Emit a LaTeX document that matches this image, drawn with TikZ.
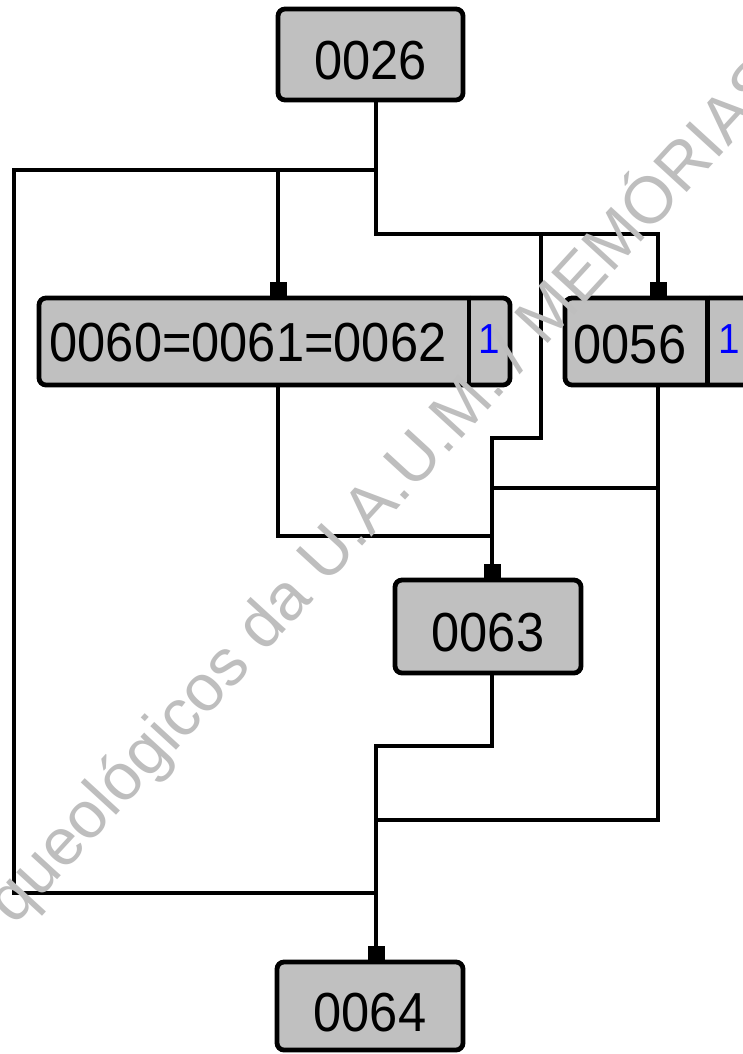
\documentclass[tikz,border=0pt]{standalone}
\usepackage{fontspec}
\setmainfont{Liberation Sans}
\newfontfamily\pix[FakeStretch=0.92]{Liberation Sans}
\usetikzlibrary{arrows.meta}
\definecolor{boxgray}{RGB}{192,192,192}
\definecolor{wmgray}{RGB}{190,190,190}
\definecolor{numblue}{RGB}{0,0,255}
\begin{document}
\begin{tikzpicture}[x=1pt,y=-1pt,
  box/.style={draw=black, fill=boxgray, line width=4.8pt, rounded corners=7pt, inner sep=0pt,
              font=\pix\fontsize{55}{60}\selectfont, text height=50pt, text depth=0pt},
  lbl/.style={font=\pix\fontsize{55}{60}\selectfont, text height=39.4pt, text depth=0pt, inner sep=0pt},
  cnt/.style={font=\pix\fontsize{42}{46}\selectfont, text=numblue, text height=30pt, text depth=0pt, inner sep=0pt},
  conn/.style={line width=4.5pt, line cap=rect},
  tip/.style={line width=4.5pt, -{Rectangle[length=14pt,width=17pt]}},
  wm/.style={text=wmgray, font=\fontsize{66}{72}\selectfont, rotate=47.5, inner sep=0pt}]
\useasboundingbox (0,0) rectangle (743,1054);
\clip (0,0) rectangle (743,1054);
\fill[white] (0,0) rectangle (743,1054);

% boxes
\node[box, minimum width=185pt, minimum height=91pt] (b26) at (370.5,54.5) {0026};
\node[box, minimum width=471pt, minimum height=87pt] (b60) at (274.5,341.5) {};
\node[lbl] (t60) at (248,342) {0060=0061=0062};
\node[cnt] (n60) at (489,338) {1};
\node[box, minimum width=235pt, minimum height=87pt] (b56) at (682.5,341.5) {};
\node[lbl] (t56) at (630,343.5) {0056};
\node[cnt] (n56) at (729,338) {1};
\node[box, minimum width=186pt, minimum height=93pt] (b63) at (488,626.5) {0063};
\node[box, minimum width=186pt, minimum height=88pt] (b64) at (370,1006) {0064};

% dividers
\coordinate (d60) at (469,0);
\coordinate (d56) at (707.5,0);
\draw[line width=4.8pt] (b60.north -| d60) -- (b60.south -| d60);
\draw[line width=4.8pt] (b56.north -| d56) -- (b56.south -| d56);

% junctions
\coordinate (c1) at (376,170);
\coordinate (c2) at (376,234);
\coordinate (c3) at (541,234);
\coordinate (c4) at (658,234);
\coordinate (c5) at (14,170);
\coordinate (c6) at (278,170);
\coordinate (c7) at (14,893);
\coordinate (c8) at (376,893);
\coordinate (c9) at (541,438);
\coordinate (c10) at (492,438);
\coordinate (c11) at (278,536);
\coordinate (c12) at (492,536);
\coordinate (c13) at (658,488);
\coordinate (c14) at (492,488);
\coordinate (c15) at (658,820);
\coordinate (c16) at (376,820);
\coordinate (c17) at (492,746);
\coordinate (c18) at (376,746);

% connectors
\draw[conn] (b26.south -| c1) -- (c1) -- (c2) -- (c4);
\draw[tip] (c4) -- (b56.north -| c4);
\draw[conn] (c1) -- (c5) -- (c7) -- (c8);
\draw[tip] (c6) -- (b60.north -| c6);
\draw[conn] (c3) -- (c9) -- (c10);
\draw[tip] (c10) -- (b63.north -| c10);
\draw[conn] (b60.south -| c11) -- (c11) -- (c12);
\draw[conn] (b56.south -| c13) -- (c13) -- (c14);
\draw[conn] (c13) -- (c15) -- (c16);
\draw[conn] (b63.south -| c17) -- (c17) -- (c18);
\draw[tip] (c18) -- (b64.north -| c18);

% watermark
\node[wm] (wmk) at (385,490) {queológicos da U.A.U.M. / MEMÓRIAS};
\end{tikzpicture}
\end{document}
